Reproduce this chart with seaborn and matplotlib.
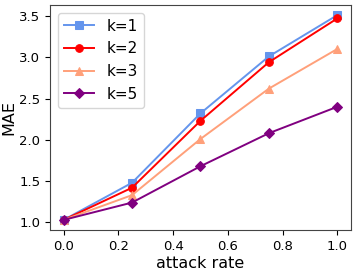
import matplotlib
matplotlib.use("Agg")
import matplotlib.pyplot as plt
import seaborn as sns
import pandas as pd

attack_rate = [0.0, 0.25, 0.5, 0.75, 1.0]
k1 = [1.03, 1.48, 2.32, 3.01, 3.51]
k2 = [1.03, 1.42, 2.23, 2.94, 3.47]
k3 = [1.03, 1.33, 2.01, 2.62, 3.10]
k5 = [1.03, 1.24, 1.68, 2.08, 2.40]
labels = ["k=1", "k=2", "k=3", "k=5"]
colors = ["cornflowerblue", "red", "lightsalmon", "purple"]
markers = ["s", "o", "^", "D"]

rows = []
for lab, vals in zip(labels, [k1, k2, k3, k5]):
    for x, v in zip(attack_rate, vals):
        rows.append({"attack rate": x, "MAE": v, "k": lab})
df = pd.DataFrame(rows)

fig, ax = plt.subplots(figsize=(3.57, 2.73), dpi=100)
for lab, c, m in zip(labels, colors, markers):
    sub = df[df["k"] == lab]
    sns.lineplot(data=sub, x="attack rate", y="MAE", color=c, marker=m,
                 markersize=5.5, markeredgecolor=c, linewidth=1.4, label=lab, ax=ax)

ax.set_xlabel("attack rate", fontsize=11.5, labelpad=2)
ax.set_ylabel("MAE", fontsize=11.5, labelpad=2)
ax.tick_params(labelsize=9.5)
ax.set_xticks([0.0, 0.2, 0.4, 0.6, 0.8, 1.0])
ax.set_yticks([1.0, 1.5, 2.0, 2.5, 3.0, 3.5])
for s in ax.spines.values():
    s.set_color("#444444")
ax.legend(fontsize=11, loc="upper left", handlelength=2.0)
fig.subplots_adjust(left=0.14, right=0.983, top=0.982, bottom=0.157)
fig.savefig("out.png", dpi=100)
